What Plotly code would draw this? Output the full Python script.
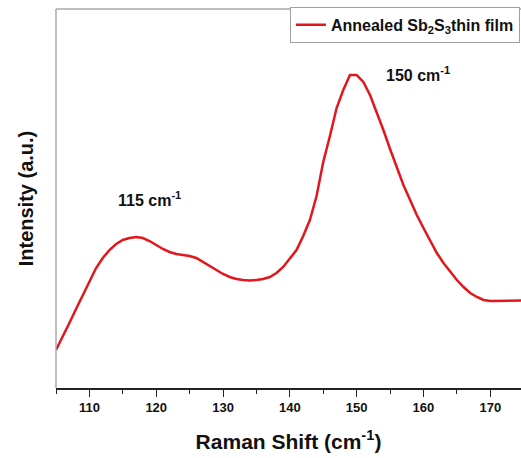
import plotly.graph_objects as go

# Raman spectrum of the annealed Sb2S3 film (arbitrary intensity units)
raman_shift = [105, 106, 107, 108, 109, 110, 111, 112, 113, 114, 115, 116, 117, 118, 119,
               120, 121, 122, 123, 124, 125, 126, 127, 128, 129, 130, 131, 132, 133, 134,
               135, 136, 137, 138, 139, 140, 141, 142, 143, 144, 145, 146, 147, 148, 149,
               150, 151, 152, 153, 154, 155, 156, 157, 158, 159, 160, 161, 162, 163, 164,
               165, 166, 167, 168, 169, 170, 171, 172, 173, 174, 175]
intensity = [38, 51, 65, 79, 93, 107, 120, 130, 138, 144, 148, 150, 151, 150, 147,
             143, 139, 136, 134, 133, 132, 130, 126, 122, 118, 114, 111, 109, 108, 107.5,
             108, 109, 111, 115, 121, 129, 138, 152, 168, 192, 226, 252, 280, 298, 313,
             313, 306, 293, 276, 258, 239, 220, 203, 188, 173, 160, 147, 135, 125, 116,
             108, 101, 95, 91, 88, 87, 87, 87, 87, 87.5, 87.5]

peak_labels = ["115 cm<sup>-1</sup>", "150 cm<sup>-1</sup>"]
peak_label_x = [119.0, 159.2]
peak_label_y = [189, 314]

x_tick_values = [110, 120, 130, 140, 150, 160, 170]
x_tick_text = [f"<b>{v}</b>" for v in x_tick_values]

FONT = "Liberation Sans, Arial, sans-serif"

fig = go.Figure()
fig.add_trace(go.Scatter(
    x=raman_shift, y=intensity, mode="lines",
    line=dict(color="#e3161c", width=2.5),
    name="<b>Annealed Sb<sub>2</sub>S<sub>3</sub>thin film</b>",
))

for text, lx, ly in zip(peak_labels, peak_label_x, peak_label_y):
    fig.add_annotation(x=lx, y=ly, text=f"<b>{text}</b>", showarrow=False,
                       font=dict(family=FONT, size=16, color="#111"))

# thin grey frame lines on the left and top
fig.add_shape(type="line", xref="paper", yref="paper", x0=0, x1=0, y0=0, y1=1,
              line=dict(color="#a8a8a8", width=1.5))
fig.add_shape(type="line", xref="paper", yref="paper", x0=0, x1=1, y0=1, y1=1,
              line=dict(color="#a8a8a8", width=1.5))

fig.update_layout(
    width=521, height=458,
    margin=dict(l=56, r=0, t=9, b=70),
    paper_bgcolor="white", plot_bgcolor="white",
    font=dict(family=FONT, color="#111"),
    showlegend=True,
    legend=dict(x=0.503, y=1.006, xanchor="left", yanchor="top",
                bordercolor="#a0a0a0", borderwidth=1, bgcolor="white",
                font=dict(family=FONT, size=16, color="#111"),
                itemwidth=30, tracegroupgap=0),
    xaxis=dict(
        range=[105, 174.6], showgrid=False, zeroline=False,
        showline=True, linecolor="#222", linewidth=1.5,
        tickmode="array", tickvals=x_tick_values, ticktext=x_tick_text,
        ticks="outside", ticklen=7, tickwidth=1.3, tickcolor="#222",
        tickfont=dict(family=FONT, size=13, color="#111"),
        minor=dict(dtick=5, tick0=105, ticks="outside", ticklen=4, tickwidth=1.2, tickcolor="#222"),
        title=dict(text="<b>Raman Shift (cm<sup>-1</sup>)</b>", standoff=20,
                   font=dict(family=FONT, size=21, color="#111")),
    ),
    yaxis=dict(
        range=[0, 379], showgrid=False, zeroline=False, showline=False,
        showticklabels=False, ticks="",
        title=dict(text="<b>Intensity (a.u.)</b>", standoff=16,
                   font=dict(family=FONT, size=20, color="#111")),
    ),
)

fig.write_html("out.html")
